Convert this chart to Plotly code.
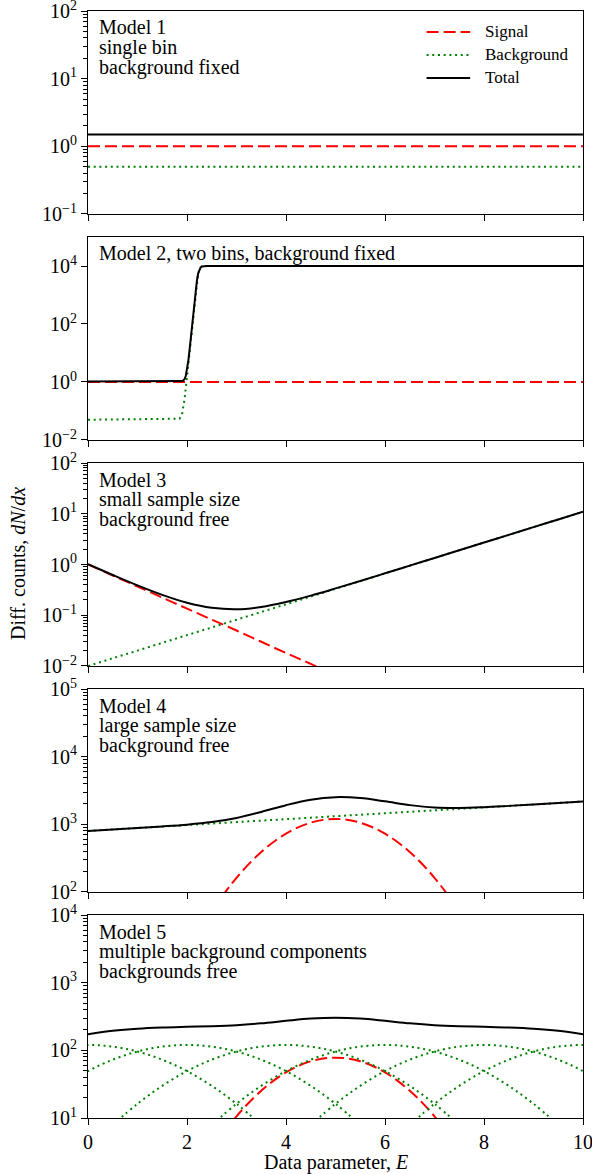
import plotly.graph_objects as go
from plotly.subplots import make_subplots

# ---------------- data ----------------
# Model 1
m1_x = [0, 10]
m1_signal = [1.0, 1.0]
m1_background = [0.5, 0.5]
m1_total = [1.5, 1.5]

# Model 2
m2_x = [0, 1.85, 1.9, 1.925, 1.95, 1.975, 2.0, 2.025, 2.05, 2.075, 2.1, 2.125,
        2.15, 2.175, 2.2, 2.225, 2.25, 2.275, 2.3, 2.35, 2.4, 10]
m2_signal = [1.0] * len(m2_x)
m2_background = [0.05, 0.054, 0.078, 0.125, 0.254, 0.605, 1.56, 4.15, 11.1, 30.2,
                 81.6, 218.8, 573, 1419, 3100, 5498, 7685, 9002, 9608, 9945, 9993, 10000]
m2_total = [1.05, 1.054, 1.078, 1.125, 1.254, 1.605, 2.56, 5.15, 12.1, 31.2, 82.6,
            219.8, 574, 1420, 3101, 5499, 7686, 9003, 9609, 9946, 9994, 10001]

# Model 3
m3_x = [0, 0.5, 1, 1.5, 2, 2.5, 3, 3.5, 4, 4.5, 5, 5.5, 6, 6.5, 7, 7.5, 8, 8.5, 9, 9.5, 10]
m3_signal_x = [0, 0.5, 1, 1.5, 2, 2.5, 3, 3.5, 4, 4.5, 5]
m3_signal = [1.0, 0.607, 0.368, 0.223, 0.135, 0.082, 0.050, 0.030, 0.018, 0.011, 0.0067]
m3_background = [0.01, 0.0142, 0.0201, 0.0286, 0.0406, 0.0575, 0.0817, 0.116, 0.164, 0.233,
                 0.331, 0.470, 0.667, 0.947, 1.34, 1.91, 2.70, 3.84, 5.45, 7.73, 10.97]
m3_total = [1.01, 0.621, 0.388, 0.252, 0.176, 0.140, 0.131, 0.146, 0.183, 0.244, 0.338,
            0.474, 0.670, 0.949, 1.344, 1.906, 2.705, 3.84, 5.45, 7.73, 10.97]

# Model 4
m4_x = [0, 0.5, 1, 1.5, 2, 2.5, 3, 3.5, 4, 4.5, 5, 5.5, 6, 6.5, 7, 7.5, 8, 8.5, 9, 9.5, 10]
m4_signal_x = [2.5, 3, 3.5, 4, 4.5, 5, 5.5, 6, 6.5, 7, 7.5]
m4_signal = [52.7, 162, 390, 728, 1059, 1200, 1059, 728, 390, 162, 52.7]
m4_background = [800, 841, 884, 929, 977, 1027, 1080, 1135, 1193, 1255, 1319, 1387,
                 1458, 1533, 1611, 1694, 1780, 1871, 1967, 2068, 2175]
m4_total = [800, 841, 884, 932, 990, 1080, 1242, 1525, 1921, 2314, 2519, 2446, 2186,
            1923, 1773, 1747, 1793, 1874, 1967, 2068, 2175]

# Model 5
m5_x = [0, 0.5, 1, 1.5, 2, 2.5, 3, 3.5, 4, 4.5, 5, 5.5, 6, 6.5, 7, 7.5, 8, 8.5, 9, 9.5, 10]
m5_signal_x = [2, 2.5, 3, 3.5, 4, 4.5, 5, 5.5, 6, 6.5, 7, 7.5, 8]
m5_signal = [0.87, 3.42, 10.6, 25.3, 47.3, 68.8, 78, 68.8, 47.3, 25.3, 10.6, 3.42, 0.87]
m5_bg_centres = [0, 2, 4, 6, 8, 10]
m5_bg_offsets = [-3.5, -3, -2.5, -2, -1.5, -1, -0.5, 0, 0.5, 1, 1.5, 2, 2.5, 3, 3.5]
m5_bg_profile = [7.9, 16.2, 29.9, 49.3, 72.8, 96.1, 113.5, 120, 113.5, 96.1, 72.8, 49.3,
                 29.9, 16.2, 7.9]
m5_total = [172.8, 194.3, 209.0, 217.7, 223.0, 227.7, 235.7, 250.7, 272.8, 294.4, 303.5,
            294.4, 272.8, 250.7, 235.7, 227.7, 223.0, 217.7, 209.0, 194.3, 172.8]

model_texts = [
    ["Model 1", "single bin", "background fixed"],
    ["Model 2, two bins, background fixed"],
    ["Model 3", "small sample size", "background free"],
    ["Model 4", "large sample size", "background free"],
    ["Model 5", "multiple background components", "backgrounds free"],
]
y_ranges = [(-1, 2), (-2, 5), (-2, 2), (2, 5), (1, 4)]
y_majors = [[-1, 0, 1, 2], [-2, 0, 2, 4], [-2, -1, 0, 1, 2], [2, 3, 4, 5], [1, 2, 3, 4]]
x_ticks = [0, 2, 4, 6, 8, 10]
legend_labels = ["Signal", "Background", "Total"]

# ---------------- styling ----------------
FONT = "Liberation Serif"
RED = "#ff0000"
GREEN = "#008000"
BLACK = "#000000"
LW = 2
DASH = "12px,5px"
DOT = "2px,3.7px"

fig = make_subplots(rows=5, cols=1, shared_xaxes=True, vertical_spacing=0.0208)


def add(row, x, y, color, dash, shape="linear"):
    fig.add_trace(go.Scatter(x=x, y=y, mode="lines", showlegend=False, hoverinfo="skip",
                             line=dict(color=color, width=LW, dash=dash, shape=shape)),
                  row=row, col=1)


add(1, m1_x, m1_signal, RED, DASH)
add(1, m1_x, m1_background, GREEN, DOT)
add(1, m1_x, m1_total, BLACK, "solid")

add(2, m2_x, m2_signal, RED, DASH)
add(2, m2_x, m2_background, GREEN, DOT)
add(2, m2_x, m2_total, BLACK, "solid")

add(3, m3_signal_x, m3_signal, RED, DASH, "spline")
add(3, m3_x, m3_background, GREEN, DOT, "spline")
add(3, m3_x, m3_total, BLACK, "solid", "spline")

add(4, m4_signal_x, m4_signal, RED, DASH, "spline")
add(4, m4_x, m4_background, GREEN, DOT, "spline")
add(4, m4_x, m4_total, BLACK, "solid", "spline")

add(5, m5_signal_x, m5_signal, RED, DASH, "spline")
for c in m5_bg_centres:
    add(5, [c + o for o in m5_bg_offsets], m5_bg_profile, GREEN, DOT, "spline")
add(5, m5_x, m5_total, BLACK, "solid", "spline")


def sup(p):
    s = str(p).replace("-", "\u2212")
    return "10<sup>" + s + "</sup>"


for i in range(5):
    lo, hi = y_ranges[i]
    minor_vals = []
    if i != 1:
        for d in range(lo, hi):
            for m in range(2, 10):
                minor_vals.append(m * 10 ** d)
    fig.update_yaxes(
        type="log", range=[lo, hi],
        tickmode="array", tickvals=[10 ** p for p in y_majors[i]],
        ticktext=[sup(p) for p in y_majors[i]],
        ticks="outside", ticklen=6, tickwidth=1.1, tickcolor=BLACK,
        ticklabeloverflow="allow",
        showline=True, linecolor=BLACK, linewidth=1.1, mirror=True,
        showgrid=False, zeroline=False,
        tickfont=dict(family=FONT, size=20, color=BLACK),
        minor=dict(tickmode="array", tickvals=minor_vals, ticks="outside",
                   ticklen=3.5, tickwidth=0.9, tickcolor=BLACK, showgrid=False),
        row=i + 1, col=1)
    fig.update_xaxes(
        range=[0, 10], tickmode="array", tickvals=x_ticks,
        ticktext=[str(t) for t in x_ticks],
        showticklabels=(i == 4),
        ticks="outside", ticklen=6, tickwidth=1.1, tickcolor=BLACK,
        ticklabeloverflow="allow",
        showline=True, linecolor=BLACK, linewidth=1.1, mirror=True,
        showgrid=False, zeroline=False,
        tickfont=dict(family=FONT, size=20, color=BLACK),
        row=i + 1, col=1)

PANEL_H = 203.0
annotations = []
for i, lines in enumerate(model_texts):
    xr = "x domain" if i == 0 else f"x{i + 1} domain"
    yr = "y domain" if i == 0 else f"y{i + 1} domain"
    for j, t in enumerate(lines):
        off = 16.5 + 20 * j
        annotations.append(dict(text=t, xref=xr, yref=yr, x=0.018, y=1 - off / PANEL_H,
                                xanchor="left", yanchor="middle", showarrow=False,
                                font=dict(family=FONT, size=20, color=BLACK)))

# legend (in panel 1)
leg_styles = [(RED, DASH), (GREEN, DOT), (BLACK, "solid")]
shapes = []
for j, (lab, (col, dsh)) in enumerate(zip(legend_labels, leg_styles)):
    yy = 1 - (21 + 23 * j) / PANEL_H
    shapes.append(dict(type="line", xref="x domain", yref="y domain", x0=0.684, x1=0.772,
                       y0=yy, y1=yy, line=dict(color=col, width=LW, dash=dsh)))
    annotations.append(dict(text=lab, xref="x domain", yref="y domain", x=0.797, y=yy,
                            xanchor="left", yanchor="middle", showarrow=False,
                            font=dict(family=FONT, size=17, color=BLACK)))

# axis titles
annotations.append(dict(text="Diff. counts, <i>dN</i>/<i>dx</i>", xref="paper", yref="paper",
                        x=-0.1414, y=0.5005, xanchor="center", yanchor="middle",
                        textangle=-90, showarrow=False,
                        font=dict(family=FONT, size=20, color=BLACK)))
annotations.append(dict(text="Data parameter, <i>E</i>", xref="paper", yref="paper",
                        x=0.5, y=-0.040, xanchor="center", yanchor="middle",
                        showarrow=False, font=dict(family=FONT, size=20, color=BLACK)))

fig.update_layout(
    width=592, height=1174,
    margin=dict(l=88, r=9, t=11, b=56, autoexpand=False),
    plot_bgcolor="white", paper_bgcolor="white",
    showlegend=False,
    annotations=annotations, shapes=shapes,
    font=dict(family=FONT, color=BLACK),
)

fig.write_html("out.html")
